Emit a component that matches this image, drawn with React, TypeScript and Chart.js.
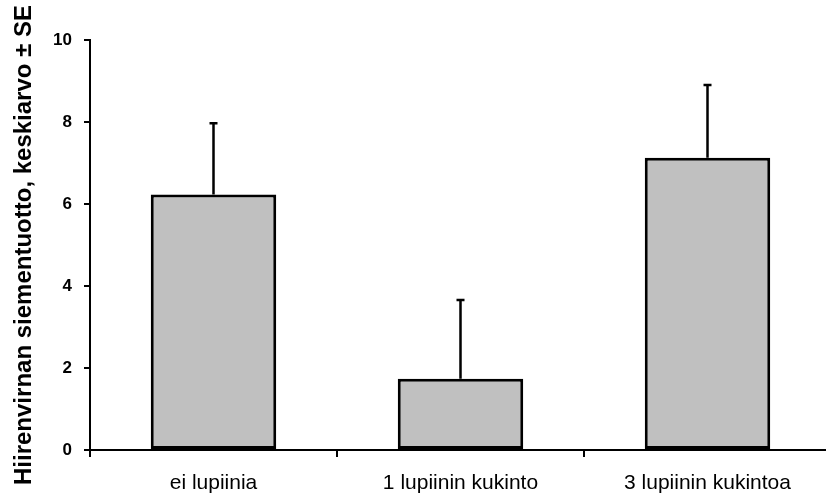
import React, { useEffect, useRef } from "react";
import { Chart, registerables } from "chart.js";

Chart.register(...registerables);

const categories = ["ei lupiinia", "1 lupiinin kukinto", "3 lupiinin kukintoa"];
const means = [6.23, 1.74, 7.13];
const se = [1.74, 1.92, 1.77];
const yTicks = [0, 2, 4, 6, 8, 10];
const yTitle = "Hiirenvirnan siementuotto, keskiarvo ± SE";

const FONT = "'Liberation Sans', Arial, sans-serif";

const errorBarPlugin = {
  id: "errorBars",
  afterDatasetsDraw(chart: any) {
    const ctx = chart.ctx;
    const meta = chart.getDatasetMeta(0);
    const yScale = chart.scales.y;
    ctx.save();
    ctx.strokeStyle = "#000";
    ctx.lineWidth = 2.5;
    meta.data.forEach((bar: any, i: number) => {
      const x = bar.x;
      const y0 = yScale.getPixelForValue(means[i]);
      const y1 = yScale.getPixelForValue(means[i] + se[i]);
      ctx.beginPath();
      ctx.moveTo(x, y0);
      ctx.lineTo(x, y1);
      ctx.moveTo(x - 4, y1);
      ctx.lineTo(x + 4, y1);
      ctx.stroke();
    });
    ctx.restore();
  },
};

export default function App() {
  const ref = useRef<HTMLCanvasElement>(null);

  useEffect(() => {
    if (!ref.current) return;
    const chart = new Chart(ref.current, {
      type: "bar",
      data: {
        labels: categories,
        datasets: [
          {
            data: means,
            backgroundColor: "#c0c0c0",
            borderColor: "#000",
            borderWidth: 3,
            borderSkipped: false,
            categoryPercentage: 1,
            barPercentage: 0.508,
          },
        ],
      },
      options: {
        responsive: false,
        animation: false,
        devicePixelRatio: 1,
        layout: { padding: { top: 40, left: 0, right: 0, bottom: 0 } },
        plugins: {
          legend: { display: false },
          tooltip: { enabled: false },
          title: { display: false },
        },
        scales: {
          x: {
            offset: true,
            grid: {
              offset: true,
              drawOnChartArea: false,
              drawTicks: true,
              tickLength: 7,
              color: "#000",
              lineWidth: 2,
            },
            border: { display: true, color: "#000", width: 2 },
            ticks: {
              color: "#000",
              padding: 14,
              maxRotation: 0,
              autoSkip: false,
              font: { family: FONT, size: 21, weight: "normal" },
            },
            afterFit(scale: any) {
              scale.height = 45;
            },
          },
          y: {
            min: 0,
            max: 10,
            afterBuildTicks(scale: any) {
              scale.ticks = yTicks.map((v) => ({ value: v }));
            },
            grid: {
              drawOnChartArea: false,
              drawTicks: true,
              tickLength: 6,
              color: "#000",
              lineWidth: 2,
            },
            border: { display: true, color: "#000", width: 2 },
            ticks: {
              color: "#000",
              padding: 12,
              font: { family: FONT, size: 17, weight: "bold" },
            },
            title: {
              display: true,
              text: yTitle,
              color: "#000",
              padding: { top: 10, bottom: 0 },
              font: { family: FONT, size: 24, weight: "bold" },
            },
            afterFit(scale: any) {
              scale.width = 90;
            },
          },
        },
      },
      plugins: [errorBarPlugin],
    });
    return () => chart.destroy();
  }, []);

  return (
    <div
      style={{
        position: "fixed",
        left: 0,
        top: 0,
        width: 826,
        height: 495,
        overflow: "hidden",
        background: "#fff",
      }}
    >
      <canvas ref={ref} width={831} height={495} style={{ display: "block" }} />
    </div>
  );
}
